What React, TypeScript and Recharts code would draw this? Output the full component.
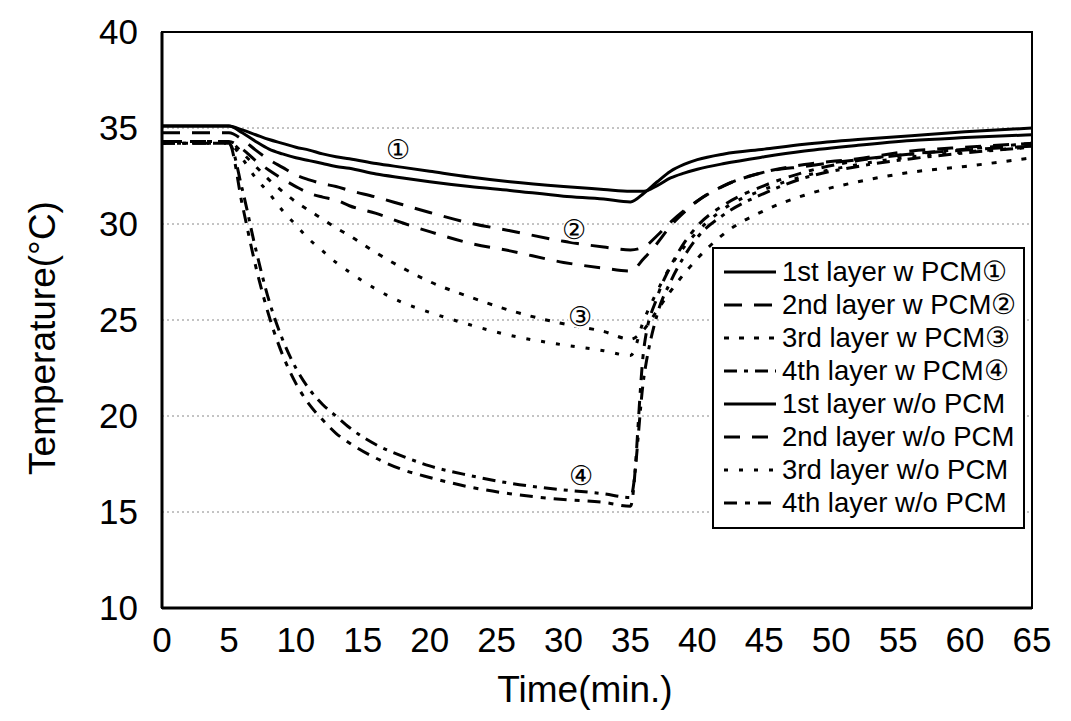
import {
  LineChart,
  Line,
  XAxis,
  YAxis,
  CartesianGrid,
  Legend,
  ReferenceArea,
  ReferenceDot,
} from "recharts";

const time = [0, 5, 6, 7, 8, 9, 10, 11, 12, 13, 14, 16, 18, 20, 23, 26, 30, 33, 35, 36, 37, 38, 39, 40, 42, 45, 48, 52, 56, 60, 65];

const layer1Pcm = [35.1, 35.1, 34.9, 34.65, 34.4, 34.2, 34.0, 33.85, 33.65, 33.5, 33.4, 33.15, 32.95, 32.75, 32.45, 32.2, 31.95, 31.8, 31.7, 31.7, 32.0, 32.4, 32.65, 32.85, 33.15, 33.5, 33.8, 34.1, 34.35, 34.5, 34.65];
const layer2Pcm = [34.75, 34.75, 34.4, 33.85, 33.35, 32.95, 32.55, 32.3, 32.1, 31.95, 31.75, 31.4, 31.0, 30.6, 30.05, 29.65, 29.1, 28.8, 28.65, 28.8, 29.4, 30.1, 30.7, 31.2, 32.0, 32.7, 33.0, 33.35, 33.65, 33.85, 34.05];
const layer3Pcm = [34.3, 34.3, 33.7, 33.0, 32.3, 31.7, 31.15, 30.7, 30.25, 29.8, 29.4, 28.5, 27.7, 27.0, 26.2, 25.5, 24.8, 24.4, 24.0, 24.5, 25.5, 26.5, 27.4, 28.2, 29.5, 30.7, 31.5, 32.2, 32.7, 33.0, 33.45];
const layer4Pcm = [34.2, 34.2, 31.8, 28.7, 26.0, 24.0, 22.5, 21.4, 20.6, 20.0, 19.4, 18.5, 17.9, 17.4, 16.9, 16.5, 16.15, 15.95, 15.75, 22.0, 25.3, 27.0, 28.3, 29.3, 30.5, 31.6, 32.4, 33.0, 33.4, 33.7, 34.0];
const layer1NoPcm = [35.1, 35.1, 34.75, 34.3, 33.9, 33.65, 33.45, 33.3, 33.15, 33.0, 32.9, 32.6, 32.4, 32.2, 31.95, 31.75, 31.45, 31.3, 31.15, 31.6, 32.2, 32.75, 33.1, 33.35, 33.65, 33.9, 34.15, 34.4, 34.6, 34.8, 35.0];
const layer2NoPcm = [34.3, 34.3, 33.9, 33.3, 32.8, 32.35, 31.95, 31.6, 31.4, 31.25, 30.95, 30.55, 30.05, 29.6, 29.0, 28.6, 28.0, 27.7, 27.55, 28.2, 29.0, 29.9, 30.6, 31.2, 32.0, 32.7, 33.1, 33.4, 33.8, 34.0, 34.2];
const layer3NoPcm = [34.2, 34.2, 33.4, 32.4, 31.6, 30.7, 29.95, 29.2, 28.6, 28.0, 27.5, 26.6, 25.9, 25.4, 24.75, 24.2, 23.7, 23.4, 23.15, 25.0, 26.5, 27.8, 28.8, 29.6, 30.8, 31.8, 32.5, 33.1, 33.5, 33.75, 34.0];
const layer4NoPcm = [34.2, 34.2, 31.0, 27.8, 25.2, 23.2, 21.7, 20.6, 19.8, 19.1, 18.6, 17.8, 17.2, 16.8, 16.3, 15.95, 15.65, 15.5, 15.3, 23.5, 26.2, 27.8, 29.0, 29.9, 31.0, 32.0, 32.7, 33.3, 33.65, 33.9, 34.2];

const xTicks = [0, 5, 10, 15, 20, 25, 30, 35, 40, 45, 50, 55, 60, 65];
const yTicks = [10, 15, 20, 25, 30, 35, 40];

const series = [
  { key: "l1p", name: "1st layer w PCM\u2460", values: layer1Pcm, dash: undefined as string | undefined },
  { key: "l2p", name: "2nd layer w PCM\u2461", values: layer2Pcm, dash: "18 12" },
  { key: "l3p", name: "3rd layer w PCM\u2462", values: layer3Pcm, dash: "5 10" },
  { key: "l4p", name: "4th layer w PCM\u2463", values: layer4Pcm, dash: "13 7 4 7" },
  { key: "l1n", name: "1st layer w/o PCM", values: layer1NoPcm, dash: undefined },
  { key: "l2n", name: "2nd layer w/o PCM", values: layer2NoPcm, dash: "16 12" },
  { key: "l3n", name: "3rd layer w/o PCM", values: layer3NoPcm, dash: "4 11" },
  { key: "l4n", name: "4th layer w/o PCM", values: layer4NoPcm, dash: "13 8 5 8" },
];

// circled numbers placed next to the curves
const marks = [
  { label: "\u2460", t: 17.6, v: 33.9 },
  { label: "\u2461", t: 30.8, v: 29.7 },
  { label: "\u2462", t: 31.2, v: 25.2 },
  { label: "\u2463", t: 31.3, v: 16.9 },
];

const data = time.map((t, i) => {
  const row: Record<string, number> = { t };
  series.forEach((s) => {
    row[s.key] = s.values[i];
  });
  return row;
});

const FONT = "'Liberation Sans', Arial, sans-serif";

function LegendBox() {
  return (
    <div
      style={{
        border: "2px solid #000",
        background: "#fff",
        padding: "6px 0 8px 8px",
        fontFamily: FONT,
        fontSize: 27.5,
        color: "#000",
        boxSizing: "border-box",
        width: 313,
      }}
    >
      {series.map((s) => (
        <div key={s.key} style={{ display: "flex", alignItems: "center", height: 33 }}>
          <svg width={56} height={10} style={{ flex: "none" }}>
            <line x1={2} y1={5} x2={54} y2={5} stroke="#000" strokeWidth={3} strokeDasharray={s.dash} />
          </svg>
          <span style={{ marginLeft: 4, whiteSpace: "nowrap" }}>{s.name}</span>
        </div>
      ))}
    </div>
  );
}

export default function App() {
  return (
    <div style={{ position: "absolute", left: 0, top: 0, background: "#fff" }}>
      <LineChart width={1071} height={721} data={data} margin={{ top: 32, right: 39, bottom: 53, left: 62 }}>
        <CartesianGrid vertical={false} stroke="#888" strokeDasharray="2 3" />
        <ReferenceArea x1={0} x2={65} y1={10} y2={40} fill="none" stroke="#000" strokeWidth={2} />
        <XAxis
          dataKey="t"
          type="number"
          domain={[0, 65]}
          ticks={xTicks}
          height={60}
          tickLine={false}
          tickMargin={13}
          axisLine={{ stroke: "#000", strokeWidth: 3 }}
          tick={{ fill: "#000", fontSize: 35, fontFamily: FONT }}
          label={{
            content: () => (
              <text x={585} y={702} textAnchor="middle" fontSize={37} fontFamily={FONT} fill="#000">
                Time(min.)
              </text>
            ),
          }}
        />
        <YAxis
          type="number"
          domain={[10, 40]}
          ticks={yTicks}
          width={100}
          tickLine={false}
          tickMargin={18}
          axisLine={{ stroke: "#000", strokeWidth: 3 }}
          tick={{ fill: "#000", fontSize: 35, fontFamily: FONT }}
          label={{
            content: () => (
              <text
                x={42}
                y={338}
                transform="rotate(-90 42 338)"
                textAnchor="middle"
                dominantBaseline="central"
                fontSize={37}
                fontFamily={FONT}
                fill="#000"
              >
                Temperature(°C)
              </text>
            ),
          }}
        />
        {series.map((s) => (
          <Line
            key={s.key}
            dataKey={s.key}
            name={s.name}
            type="monotone"
            stroke="#000"
            strokeWidth={3}
            strokeDasharray={s.dash}
            dot={false}
            activeDot={false}
            isAnimationActive={false}
          />
        ))}
        {marks.map((m) => (
          <ReferenceDot
            key={m.label}
            x={m.t}
            y={m.v}
            r={12}
            fill="#fff"
            stroke="none"
            label={{ value: m.label, position: "center", fontSize: 27, fill: "#000" }}
          />
        ))}
        <Legend
          layout="vertical"
          align="center"
          verticalAlign="middle"
          wrapperStyle={{ left: 712, top: 247, width: 313 }}
          content={() => <LegendBox />}
        />
      </LineChart>
    </div>
  );
}
